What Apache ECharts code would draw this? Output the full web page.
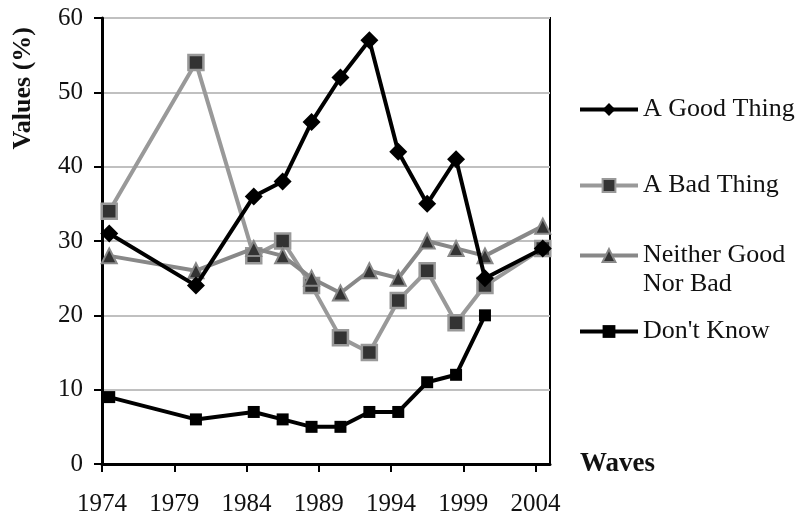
<!DOCTYPE html>
<html><head><meta charset="utf-8">
<script src="https://cdn.jsdelivr.net/npm/echarts@6/dist/echarts.min.js"></script>
<style>html,body{margin:0;padding:0;background:#fff}#c{width:795px;height:515px}</style>
</head><body><div id="c"></div>
<script>
const years = [1974, 1980, 1984, 1986, 1988, 1990, 1992, 1994, 1996, 1998, 2000, 2004];
const goodThing = [31, 24, 36, 38, 46, 52, 57, 42, 35, 41, 25, 29];
const badThing = [34, 54, 28, 30, 24, 17, 15, 22, 26, 19, 24, 29];
const neither = [28, 26, 29, 28, 25, 23, 26, 25, 30, 29, 28, 32];
const dontKnow = [9, 6, 7, 6, 5, 5, 7, 7, 11, 12, 20, null];
const seriesNames = ['A Good Thing', 'A Bad Thing', 'Neither Good\nNor Bad', "Don't Know"];
const xTickStart = 1974, xTickEnd = 2005, xTickStep = 5;
const yMin = 0, yMax = 60, yStep = 10;

const FONT = '"Liberation Serif", "Times New Roman", serif';
// Excel date axis: each year is a unit, point centered in it
const pts = arr => years.map((y, i) => [y - xTickStart + 0.5, arr[i]]);

const chart = echarts.init(document.getElementById('c'));
const legendText = { fontFamily: FONT, fontSize: 26, color: '#111', lineHeight: 29 };
const legendBase = (name, top, fmt) => ({
  data: [name], left: 578, top: top, orient: 'vertical', padding: 0,
  itemWidth: 58, itemHeight: 16, itemGap: 0,
  lineStyle: { width: 4 },
  formatter: fmt || (n => n),
  textStyle: legendText
});
chart.setOption({
  animation: false,
  textStyle: { fontFamily: FONT },
  grid: { left: 102, right: 245, top: 18, bottom: 51, show: true, borderColor: '#000', borderWidth: 2,
    containLabel: false, outerBoundsMode: 'none' },
  xAxis: {
    type: 'value', min: 0, max: xTickEnd - xTickStart, interval: xTickStep,
    axisLine: { lineStyle: { color: '#000', width: 3 } },
    axisTick: { show: true, length: 8, lineStyle: { color: '#000', width: 2 } },
    splitLine: { show: false },
    axisLabel: { fontFamily: FONT, fontSize: 25, color: '#111', margin: 28,
      showMaxLabel: false,
      formatter: v => (v % xTickStep === 0 ? String(v + xTickStart) : '') }
  },
  yAxis: {
    type: 'value', min: yMin, max: yMax, interval: yStep,
    axisLine: { show: true, lineStyle: { color: '#000', width: 3 } },
    axisTick: { show: true, length: 8, lineStyle: { color: '#000', width: 2 } },
    splitLine: { lineStyle: { color: '#c0c0c0', width: 2 } },
    axisLabel: { fontFamily: FONT, fontSize: 25, color: '#111', margin: 19 }
  },
  legend: [
    legendBase(seriesNames[0], 95),
    legendBase(seriesNames[1], 171),
    legendBase(seriesNames[2], 212, n => ' \n' + n),
    legendBase(seriesNames[3], 317)
  ],
  graphic: [
    { type: 'text', left: 10, top: 27, rotation: Math.PI / 2, style: { text: 'Values (%)', font: 'bold 26px "Liberation Serif"', fill: '#111' } },
    { type: 'text', left: 580, top: 451, style: { text: 'Waves', font: 'bold 27px "Liberation Serif"', fill: '#111' } }
  ],
  series: [
    { name: seriesNames[0], type: 'line', data: pts(goodThing), symbol: 'diamond', symbolSize: 18,
      lineStyle: { color: '#000', width: 4 }, itemStyle: { color: '#000' }, z: 5 },
    { name: seriesNames[1], type: 'line', data: pts(badThing), symbol: 'rect', symbolSize: 15,
      lineStyle: { color: '#999', width: 4 }, itemStyle: { color: '#333', borderColor: '#999', borderWidth: 2.5 }, z: 3 },
    { name: seriesNames[2], type: 'line', data: pts(neither), symbol: 'triangle', symbolSize: 15,
      lineStyle: { color: '#888', width: 4 }, itemStyle: { color: '#333', borderColor: '#888', borderWidth: 2 }, z: 4 },
    { name: seriesNames[3], type: 'line', data: pts(dontKnow), symbol: 'rect', symbolSize: 12,
      lineStyle: { color: '#000', width: 4 }, itemStyle: { color: '#000' }, z: 6 }
  ]
});
</script></body></html>
